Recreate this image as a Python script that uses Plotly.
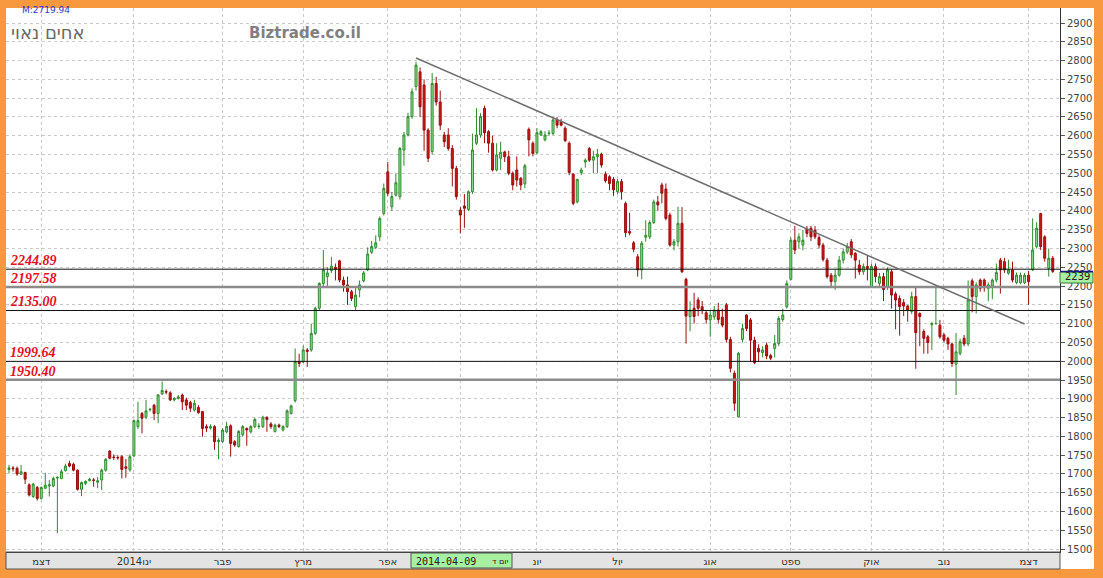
import plotly.graph_objects as go

# ---------------- data ----------------
opens = [1712,1716,1715,1699,1704,1671,1640,1664,1635,1662,1668,1668,1689,1688,1709,1728,1726,1710,1659,1675,
         1682,1684,1678,1684,1710,1761,1745,1744,1746,1719,1711,1748,1826,1861,1851,1871,1883,1861,1913,1919,
         1916,1897,1901,1910,1897,1890,1870,1877,1866,1826,1822,1826,1786,1786,1812,1828,1786,1773,1804,1821,
         1812,1826,1826,1826,1851,1833,1813,1830,1817,1826,1861,1895,1999,1998,2030,2030,2074,2141,2207,2225,
         2241,2250,2267,2216,2203,2185,2145,2190,2214,2243,2290,2303,2331,2393,2504,2411,2442,2438,2562,2602,
         2651,2731,2770,2735,2615,2558,2739,2690,2602,2602,2566,2513,2402,2413,2404,2451,2580,2602,2673,2611,
         2580,2509,2540,2557,2544,2500,2509,2487,2472,2617,2580,2555,2602,2589,2606,2606,2643,2637,2620,2580,
         2498,2424,2502,2530,2566,2535,2544,2551,2498,2491,2484,2451,2478,2420,2345,2315,2278,2243,2330,2331,
         2369,2424,2469,2458,2389,2309,2318,2367,2218,2119,2141,2163,2145,2129,2110,2118,2136,2117,2150,2058,
         1968,1852,2058,2123,2110,2056,2034,2023,2043,2015,2034,2047,2111,2145,2218,2322,2318,2309,2351,2354,
         2349,2329,2309,2269,2229,2212,2229,2269,2291,2318,2287,2256,2238,2252,2198,2252,2207,2225,2196,2238,
         2179,2167,2156,2147,2132,2172,2127,2079,2065,2097,2100,2096,2070,2061,2046,1992,2021,2061,2046,2214,
         2172,2216,2216,2194,2200,2216,2269,2265,2234,2243,2209,2209,2209,2229,2243,2305,2393,2331,2247,2274]
highs = [1724,1721,1720,1724,1706,1675,1676,1668,1667,1703,1684,1693,1693,1712,1727,1735,1730,1712,1680,1683,
         1690,1689,1692,1714,1742,1763,1752,1750,1750,1740,1752,1845,1892,1865,1897,1876,1886,1913,1946,1925,
         1920,1905,1910,1914,1903,1895,1897,1883,1868,1832,1832,1830,1795,1822,1839,1832,1790,1817,1830,1824,
         1830,1850,1835,1855,1853,1838,1834,1834,1830,1872,1885,2034,2020,2042,2035,2100,2145,2210,2296,2250,
         2278,2260,2270,2225,2225,2190,2200,2215,2240,2303,2320,2335,2385,2473,2530,2450,2500,2570,2610,2661,
         2726,2797,2782,2750,2620,2767,2757,2720,2610,2620,2575,2520,2410,2445,2455,2606,2673,2660,2680,2615,
         2600,2580,2584,2560,2560,2505,2545,2490,2525,2622,2585,2620,2615,2612,2615,2650,2650,2645,2625,2585,
         2500,2485,2515,2540,2570,2560,2565,2555,2505,2495,2490,2485,2485,2425,2395,2320,2285,2320,2375,2375,
         2430,2440,2475,2473,2395,2325,2411,2410,2222,2160,2182,2170,2160,2135,2135,2147,2155,2140,2155,2065,
         1975,2025,2100,2125,2115,2065,2045,2040,2050,2020,2070,2120,2140,2215,2330,2360,2340,2349,2360,2360,
         2360,2335,2315,2275,2235,2245,2280,2300,2315,2325,2290,2270,2260,2280,2260,2260,2235,2235,2250,2245,
         2185,2175,2165,2150,2185,2195,2130,2085,2070,2105,2197,2110,2075,2065,2050,2075,2060,2070,2215,2220,
         2210,2220,2220,2210,2220,2260,2275,2275,2270,2265,2236,2236,2235,2240,2380,2370,2395,2335,2300,2280]
lows = [1702,1706,1695,1697,1673,1640,1636,1629,1632,1660,1640,1665,1542,1686,1706,1718,1707,1656,1641,1670,
        1680,1666,1662,1657,1706,1739,1737,1738,1688,1690,1706,1745,1820,1808,1846,1866,1843,1835,1910,1912,
        1894,1893,1898,1870,1870,1865,1866,1860,1799,1812,1818,1764,1739,1783,1808,1746,1772,1770,1800,1775,
        1808,1822,1820,1822,1812,1820,1810,1822,1813,1822,1858,1890,1985,1995,1985,2025,2070,2135,2200,2200,
        2235,2215,2210,2185,2150,2160,2135,2170,2210,2240,2285,2298,2320,2388,2440,2400,2438,2430,2520,2598,
        2645,2720,2650,2560,2530,2550,2680,2615,2570,2560,2465,2430,2340,2355,2400,2445,2575,2595,2580,2555,
        2505,2505,2509,2530,2495,2455,2465,2455,2460,2545,2545,2550,2600,2585,2600,2602,2620,2625,2583,2495,
        2415,2420,2495,2515,2530,2500,2500,2515,2475,2455,2440,2445,2430,2330,2335,2290,2225,2218,2318,2325,
        2365,2400,2420,2375,2305,2295,2305,2235,2047,2080,2100,2120,2125,2100,2065,2110,2100,2090,2050,1970,
        1868,1852,2050,2080,2000,1992,2000,2010,2005,2003,2010,2040,2105,2140,2215,2285,2300,2295,2330,2320,
        2325,2300,2265,2220,2195,2190,2225,2260,2285,2275,2220,2230,2230,2215,2195,2210,2200,2160,2190,2140,
        2085,2068,2120,2105,2125,1980,2040,2020,2020,2030,2098,2060,2050,2030,1985,1910,2015,2040,2040,2130,
        2127,2185,2185,2160,2165,2210,2180,2235,2230,2210,2205,2205,2205,2150,2240,2300,2296,2265,2225,2235]
closes = [1716,1714,1700,1706,1686,1644,1673,1635,1664,1670,1671,1688,1691,1706,1721,1721,1710,1659,1677,1680,
          1686,1683,1682,1710,1739,1742,1744,1743,1712,1715,1746,1842,1842,1848,1868,1872,1861,1910,1922,1918,
          1897,1901,1905,1892,1883,1875,1888,1863,1821,1822,1826,1786,1790,1817,1826,1781,1777,1813,1826,1817,
          1826,1845,1827,1851,1845,1826,1830,1826,1826,1868,1881,1999,1994,2030,2026,2074,2141,2207,2243,2235,
          2253,2245,2216,2203,2185,2167,2176,2203,2235,2285,2305,2315,2380,2460,2447,2438,2475,2566,2602,2651,
          2717,2788,2677,2615,2540,2739,2690,2628,2584,2566,2513,2438,2389,2407,2451,2562,2602,2651,2608,2580,
          2509,2549,2556,2544,2500,2469,2482,2469,2520,2589,2553,2608,2611,2602,2607,2642,2628,2628,2587,2502,
          2420,2484,2509,2535,2535,2544,2551,2522,2480,2473,2456,2478,2451,2342,2341,2298,2243,2314,2335,2369,
          2424,2416,2447,2380,2309,2318,2367,2238,2120,2136,2119,2141,2136,2111,2123,2136,2111,2096,2058,1981,
          1888,2021,2087,2087,2056,1996,2025,2030,2014,2008,2047,2114,2123,2207,2322,2296,2331,2322,2340,2331,
          2331,2309,2271,2225,2212,2229,2269,2291,2305,2283,2269,2238,2252,2247,2252,2225,2225,2191,2243,2176,
          2163,2145,2147,2135,2172,2076,2119,2061,2050,2100,2100,2065,2056,2046,1994,2025,2052,2046,2163,2172,
          2203,2194,2196,2203,2216,2236,2243,2243,2243,2216,2229,2229,2229,2212,2296,2354,2305,2274,2274,2239]
day_index = list(range(len(closes)))

month_start_idx = [8, 31, 53, 73, 94, 131, 151, 174, 194, 214, 232, 253]
month_labels = ["דצמ", "ינו2014", "פבר", "מרץ", "אפר", "יונ", "יול", "אוג", "ספט", "אוק", "נוב", "דצמ"]
may_idx = 112

level_values = [2244.89, 2197.58, 2135.00, 1999.64, 1950.40]
level_heavy = [False, True, False, False, True]

trend_idx = [101, 252]
trend_val = [2807, 2099]

last_price = 2239
cursor_date = "2014-04-09"
cursor_day = "יום ד"

# ---------------- figure ----------------
W, H = 1103, 578
L, R, T, B = 6, 1060, 8, 552          # plot area in pixels
ORANGE = "#F8983F"

def px_x(p):
    return (p - L) / (R - L)

def px_y(p):
    return (B - p) / (B - T)

fig = go.Figure()
fig.add_trace(go.Candlestick(
    x=day_index, open=opens, high=highs, low=lows, close=closes,
    increasing=dict(line=dict(color="#2E8B2E", width=1), fillcolor="#8EE08E"),
    decreasing=dict(line=dict(color="#9B0E0E", width=1), fillcolor="#D01515"),
    whiskerwidth=0, hoverinfo="skip", showlegend=False,
))

shapes = []
# right axis panel and bottom date strip
shapes.append(dict(type="rect", xref="paper", yref="paper", x0=1.0, x1=px_x(1094),
                   y0=px_y(569), y1=1.0, fillcolor="white", line=dict(width=0), layer="below"))
shapes.append(dict(type="rect", xref="paper", yref="paper", x0=0, x1=1.0,
                   y0=px_y(569), y1=0, fillcolor="#E3E3E3", line=dict(color="#555555", width=1),
                   layer="below"))
# support / resistance levels
for v, heavy in zip(level_values, level_heavy):
    shapes.append(dict(type="line", xref="paper", yref="y", x0=0, x1=1, y0=v, y1=v,
                       line=dict(color="#8C8C8C" if heavy else "#111111", width=2.5 if heavy else 1),
                       layer="above"))
# trend line
shapes.append(dict(type="line", xref="x", yref="y", x0=trend_idx[0], x1=trend_idx[1],
                   y0=trend_val[0], y1=trend_val[1], line=dict(color="#6E6E6E", width=1.5),
                   layer="above"))
# cursor date box
shapes.append(dict(type="rect", xref="paper", yref="paper", x0=px_x(411), x1=px_x(512),
                   y0=px_y(568), y1=px_y(553), fillcolor="#A6F0A0", line=dict(color="#555555", width=1),
                   layer="above"))
# last price box
shapes.append(dict(type="rect", xref="paper", yref="paper", x0=1.0, x1=px_x(1093),
                   y0=px_y(283), y1=px_y(272), fillcolor="#A6F0A0", line=dict(color="#3A7A3A", width=1),
                   layer="above"))
shapes.append(dict(type="line", xref="paper", yref="y", x0=1.0, x1=px_x(1093),
                   y0=last_price, y1=last_price, line=dict(color="#1A1A80", width=1.5), layer="above"))

annotations = []
for v in level_values:
    annotations.append(dict(xref="paper", yref="y", x=px_x(8), y=v, xanchor="left", yanchor="bottom",
                            text=f"<b><i>{v:.2f}</i></b>", showarrow=False, yshift=-1,
                            font=dict(family="Liberation Serif", size=14, color="#E3101F")))
annotations.append(dict(xref="paper", yref="paper", x=px_x(20), y=px_y(10), xanchor="left",
                        yanchor="middle", text="M:2719.94", showarrow=False,
                        font=dict(family="DejaVu Sans", size=9, color="#3535C8")))
annotations.append(dict(xref="paper", yref="paper", x=px_x(87), y=px_y(33), xanchor="right",
                        yanchor="middle", text="אחים נאוי", showarrow=False,
                        font=dict(family="DejaVu Sans", size=18, color="#6A6A6A")))
annotations.append(dict(xref="paper", yref="paper", x=px_x(247), y=px_y(33), xanchor="left",
                        yanchor="middle", text="<b>Biztrade.co.il</b>", showarrow=False,
                        font=dict(family="DejaVu Sans", size=15, color="#808080")))
annotations.append(dict(xref="paper", yref="paper", x=px_x(414), y=px_y(561), xanchor="left",
                        yanchor="middle", text=cursor_date, showarrow=False,
                        font=dict(family="DejaVu Sans Mono", size=10, color="#222222")))
annotations.append(dict(xref="paper", yref="paper", x=px_x(510), y=px_y(561), xanchor="right",
                        yanchor="middle", text=cursor_day, showarrow=False,
                        font=dict(family="DejaVu Sans", size=8, color="#222222")))
annotations.append(dict(xref="paper", yref="paper", x=px_x(1064), y=px_y(276.5), xanchor="left",
                        yanchor="middle", text=str(last_price), showarrow=False, borderpad=0,
                        font=dict(family="DejaVu Sans", size=10, color="#222222")))

fig.update_layout(
    width=W, height=H,
    margin=dict(l=L, r=W - R, t=T, b=H - B, pad=0),
    paper_bgcolor=ORANGE, plot_bgcolor="white",
    shapes=shapes, annotations=annotations, showlegend=False,
    xaxis=dict(range=[(L - 9) / 4.03, (R - 9) / 4.03], rangeslider=dict(visible=False),
               tickmode="array", tickvals=month_start_idx + [may_idx],
               ticktext=month_labels + [""], ticks="", showline=True, linecolor="#444444",
               linewidth=1, showgrid=True, gridcolor="#C9C9C9", griddash="dot", gridwidth=1,
               tickfont=dict(family="DejaVu Sans", size=10, color="#333333"), zeroline=False,
               fixedrange=True),
    yaxis=dict(side="right", range=[2900 - 529 * 50 / 18.79, 2900 + 15 * 50 / 18.79],
               tickmode="linear", tick0=1500, dtick=50, ticks="outside", ticklen=4,
               tickcolor="#555555", showline=True, linecolor="#333333", linewidth=1,
               showgrid=True, gridcolor="#C9C9C9", griddash="dot", gridwidth=1,
               tickfont=dict(family="DejaVu Sans", size=10, color="#444444"), zeroline=False,
               fixedrange=True),
)

fig.write_html("out.html", config={"displayModeBar": False},
               post_script="document.body.style.margin='0';")
